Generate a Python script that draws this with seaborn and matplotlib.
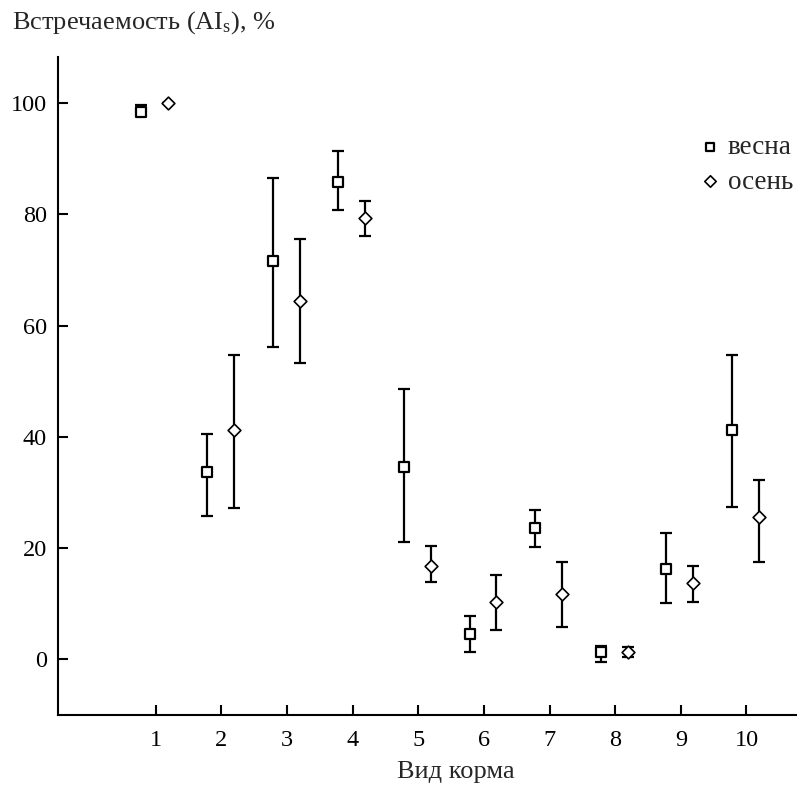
import numpy as np
import pandas as pd
import matplotlib
matplotlib.use("Agg")
import matplotlib.pyplot as plt
import seaborn as sns

# ---- data ----
categories = [1, 2, 3, 4, 5, 6, 7, 8, 9, 10]
spring_val = [98.4, 33.6, 71.6, 85.9, 34.5, 4.5, 23.6, 1.3, 16.2, 41.2]
spring_low = [98.0, 25.8, 56.2, 80.8, 21.1, 1.3, 20.2, -0.5, 10.1, 27.3]
spring_high = [99.6, 40.5, 86.6, 91.4, 48.6, 7.7, 26.8, 2.4, 22.6, 54.7]
autumn_val = [100.0, 41.2, 64.4, 79.4, 16.8, 10.2, 11.7, 1.2, 13.6, 25.5]
autumn_low = [100.0, 27.2, 53.2, 76.1, 13.9, 5.3, 5.8, 0.3, 10.3, 17.5]
autumn_high = [100.0, 54.7, 75.5, 82.4, 20.4, 15.1, 17.5, 2.2, 16.7, 32.2]
season_labels = ["весна", "осень"]
y_ticks = [0, 20, 40, 60, 80, 100]

sns.set_style("ticks")
plt.rcParams["font.family"] = ["Liberation Serif", "DejaVu Serif"]
plt.rcParams["mathtext.fontset"] = "custom"
plt.rcParams["mathtext.rm"] = "Liberation Serif"
plt.rcParams["mathtext.it"] = "Liberation Serif:italic"

offsets = {"весна": -0.22, "осень": 0.19}
df = pd.concat([
    pd.DataFrame({"cat": categories, "val": spring_val, "low": spring_low,
                  "high": spring_high, "season": season_labels[0]}),
    pd.DataFrame({"cat": categories, "val": autumn_val, "low": autumn_low,
                  "high": autumn_high, "season": season_labels[1]}),
], ignore_index=True)
df["xpos"] = df["cat"] + df["season"].map(offsets)

fig = plt.figure(figsize=(7.97, 7.85), dpi=100)
ax = fig.add_axes([58 / 797, 1 - 714.7 / 785, 1 - 58 / 797, (714.7 - 57) / 785])

for s in season_labels:
    d = df[df["season"] == s]
    ax.errorbar(d["xpos"], d["val"],
                yerr=[d["val"] - d["low"], d["high"] - d["val"]],
                fmt="none", ecolor="black", elinewidth=1.6, capsize=4,
                capthick=1.6, zorder=2)

sns.scatterplot(data=df[df["season"] == "весна"], x="xpos", y="val",
                marker="s", s=50, facecolor="white", edgecolor="black",
                linewidth=1.6, ax=ax, zorder=3, label="весна")
sns.scatterplot(data=df[df["season"] == "осень"], x="xpos", y="val",
                marker="D", s=42, facecolor="white", edgecolor="black",
                linewidth=1.2, ax=ax, zorder=3, label="осень")

ax.set_xlim(-0.49, 10.77)
ax.set_ylim(-10, 108.3)
ax.set_xticks(categories)
ax.set_xticklabels([str(c) for c in categories])
ax.set_yticks(y_ticks)
ax.set_xlabel("")
ax.set_ylabel("")
for side in ["top", "right"]:
    ax.spines[side].set_visible(False)
for side in ["left", "bottom"]:
    ax.spines[side].set_linewidth(1.5)
    ax.spines[side].set_color("black")
ax.tick_params(axis="both", direction="in", length=7, width=1.5,
               labelsize=17.5, colors="black")
ax.tick_params(axis="x", pad=11)
ax.tick_params(axis="y", pad=8)

handles, labels = ax.get_legend_handles_labels()
leg = ax.legend(handles, labels, loc="upper right",
                bbox_to_anchor=(1.0, 1 - 131 / 785), bbox_transform=fig.transFigure,
                frameon=False, fontsize=19.5, handlelength=0.6, handletextpad=0.35,
                labelspacing=0.35, borderaxespad=0, borderpad=0.15, markerscale=0.9)

fig.text(12 / 797, 1 - 23 / 785, r"Встречаемость (AI$_\mathrm{s}$), %",
         fontsize=19, ha="left", va="center")
fig.text(456 / 797, 1 - 772 / 785, "Вид корма", fontsize=19,
         ha="center", va="center")

fig.savefig("out.png", dpi=100)
